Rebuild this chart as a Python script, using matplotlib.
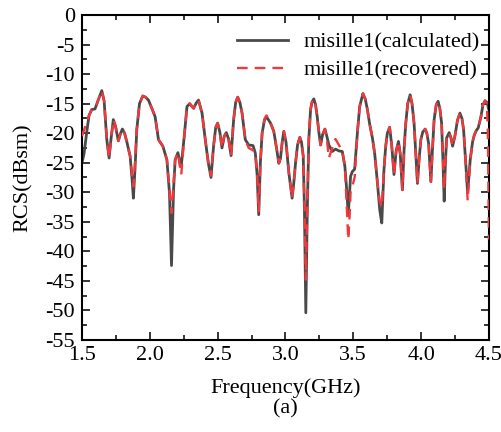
import matplotlib
matplotlib.use("Agg")
import matplotlib.pyplot as plt
from matplotlib.ticker import MultipleLocator, FormatStrFormatter

plt.rcParams["font.family"] = ["Liberation Serif", "DejaVu Serif"]
plt.rcParams["axes.unicode_minus"] = False

# Frequency samples (GHz)
freq = [
    1.500, 1.515, 1.537, 1.552, 1.572, 1.596, 1.618, 1.646, 1.663, 1.683,
    1.700, 1.714, 1.731, 1.747, 1.768, 1.785, 1.798, 1.814, 1.830, 1.855,
    1.870, 1.879, 1.891, 1.904, 1.924, 1.948, 1.968, 1.990, 2.015, 2.039,
    2.064, 2.096, 2.126, 2.145, 2.160, 2.175, 2.187, 2.207, 2.224, 2.232,
    2.254, 2.274, 2.294, 2.323, 2.342, 2.359, 2.385, 2.409, 2.431, 2.451,
    2.470, 2.486, 2.500, 2.516, 2.532, 2.549, 2.564, 2.581, 2.599, 2.618,
    2.633, 2.648, 2.664, 2.680, 2.704, 2.729, 2.761, 2.778, 2.791, 2.803,
    2.815, 2.828, 2.845, 2.860, 2.890, 2.914, 2.934, 2.951, 2.963, 2.976,
    2.988, 3.004, 3.025, 3.049, 3.061, 3.074, 3.089, 3.106, 3.118, 3.131,
    3.140, 3.150, 3.161, 3.172, 3.185, 3.196, 3.209, 3.222, 3.234, 3.246,
    3.259, 3.274, 3.291, 3.305, 3.320, 3.345, 3.369, 3.394, 3.419, 3.438,
    3.451, 3.463, 3.473, 3.480, 3.493, 3.510, 3.530, 3.547, 3.571, 3.588,
    3.604, 3.621, 3.641, 3.658, 3.678, 3.695, 3.710, 3.726, 3.739, 3.751,
    3.768, 3.783, 3.800, 3.816, 3.833, 3.846, 3.862, 3.875, 3.887, 3.901,
    3.919, 3.933, 3.948, 3.961, 3.973, 3.985, 3.998, 4.012, 4.030, 4.042,
    4.055, 4.064, 4.072, 4.083, 4.096, 4.111, 4.125, 4.138, 4.151, 4.160,
    4.170, 4.179, 4.188, 4.207, 4.220, 4.232, 4.249, 4.268, 4.286, 4.301,
    4.313, 4.330, 4.343, 4.362, 4.379, 4.392, 4.408, 4.421, 4.441, 4.456,
    4.471, 4.485, 4.492, 4.496, 4.500,
]

# Calculated RCS (dBsm)
rcs_calculated = [
    -25.0, -23.5, -19.5, -17.0, -16.0, -15.9, -14.5, -12.8, -14.5, -21.1,
    -24.2, -21.0, -17.7, -18.8, -21.3, -20.0, -19.3, -20.0, -21.4, -23.9,
    -28.0, -31.0, -26.0, -19.4, -15.0, -13.7, -13.9, -14.4, -15.8, -17.2,
    -21.1, -22.2, -24.5, -30.1, -42.4, -29.6, -24.5, -23.3, -25.1, -25.5,
    -20.5, -15.5, -15.0, -15.8, -14.9, -14.4, -16.6, -21.1, -25.0, -27.5,
    -22.2, -19.0, -18.3, -19.8, -22.5, -20.5, -19.9, -21.0, -23.8, -17.7,
    -14.8, -13.9, -14.8, -16.6, -21.1, -22.0, -22.1, -23.4, -27.0, -33.8,
    -25.0, -20.0, -17.8, -17.2, -18.3, -19.7, -22.5, -25.1, -24.3, -21.5,
    -19.7, -21.5, -26.7, -31.0, -28.5, -25.1, -22.0, -20.7, -21.5, -23.9,
    -33.0, -50.4, -33.0, -21.1, -16.0, -14.7, -14.2, -15.2, -17.2, -19.8,
    -22.0, -20.2, -19.3, -20.5, -22.0, -23.1, -22.7, -23.0, -23.1, -25.6,
    -29.5, -33.8, -30.0, -27.3, -26.5, -26.1, -20.0, -15.5, -13.3, -14.2,
    -16.0, -18.5, -20.8, -23.5, -28.4, -33.0, -35.2, -26.2, -22.2, -20.0,
    -19.0, -22.0, -27.0, -23.0, -21.4, -23.5, -29.6, -22.5, -18.3, -15.0,
    -13.5, -15.0, -18.3, -23.5, -28.5, -24.5, -21.1, -19.8, -19.3, -20.0,
    -21.7, -25.0, -28.2, -23.0, -17.7, -15.2, -14.6, -15.8, -18.3, -24.0,
    -31.5, -25.0, -20.8, -19.9, -20.8, -22.2, -20.5, -17.8, -16.6, -17.5,
    -19.4, -25.6, -30.1, -24.5, -21.5, -20.3, -19.5, -19.1, -17.2, -15.2,
    -14.5, -14.8, -15.3, -15.8, -16.0,
]

# Recovered RCS (dBsm)
rcs_recovered = [
    -20.5, -19.5, -18.0, -17.0, -16.0, -15.9, -14.5, -12.8, -14.5, -21.1,
    -24.2, -21.0, -17.7, -18.8, -21.3, -20.0, -19.3, -20.0, -21.4, -23.9,
    -27.0, -29.0, -25.0, -19.4, -15.0, -13.7, -13.9, -14.4, -15.8, -17.2,
    -21.1, -22.2, -24.5, -29.5, -33.5, -28.5, -24.5, -23.3, -26.0, -27.0,
    -20.5, -15.5, -15.0, -15.8, -14.9, -14.4, -16.6, -21.1, -25.0, -27.2,
    -22.2, -19.0, -18.3, -19.8, -22.5, -20.5, -19.9, -21.0, -23.8, -17.7,
    -14.8, -13.9, -14.8, -16.6, -21.1, -22.5, -22.9, -23.4, -27.0, -33.2,
    -25.0, -20.0, -17.6, -17.0, -18.3, -19.7, -22.5, -25.1, -24.3, -21.5,
    -19.7, -21.5, -26.7, -31.0, -28.5, -25.1, -22.0, -20.7, -21.5, -23.9,
    -32.0, -44.8, -32.0, -21.1, -16.0, -14.7, -14.2, -15.2, -17.2, -19.8,
    -22.0, -20.2, -19.3, -21.0, -24.2, -22.5, -21.0, -22.0, -23.1, -25.6,
    -32.0, -38.0, -34.0, -30.0, -29.0, -27.5, -20.0, -15.5, -13.3, -14.2,
    -16.0, -18.5, -20.8, -23.5, -28.4, -31.5, -32.5, -26.0, -22.2, -20.0,
    -19.0, -22.0, -27.0, -23.0, -21.4, -23.5, -29.6, -22.5, -18.3, -15.0,
    -13.5, -15.0, -18.3, -23.5, -28.5, -24.5, -21.1, -19.8, -19.3, -20.0,
    -21.7, -25.0, -28.2, -23.0, -17.7, -15.2, -14.6, -15.8, -18.3, -23.5,
    -29.5, -24.5, -20.8, -19.9, -20.8, -22.2, -20.5, -17.8, -16.6, -17.5,
    -19.4, -25.6, -31.4, -24.5, -21.5, -20.3, -19.5, -19.1, -17.2, -15.2,
    -14.5, -15.0, -20.0, -30.0, -38.0,
]

x_ticks = [1.5, 2.0, 2.5, 3.0, 3.5, 4.0, 4.5]
y_ticks = list(range(-55, 1, 5))

fig = plt.figure(figsize=(5.02, 4.32), dpi=100)
ax = fig.add_axes([0.1633, 0.213, 0.8107, 0.7523])

ax.plot(freq, rcs_calculated, color="#4a4a4a", lw=2.0,
        label="misille1(calculated)", zorder=2)
ax.plot(freq, rcs_recovered, color="#f0393c", lw=1.7,
        linestyle=(0, (4.5, 3.0)), label="misille1(recovered)", zorder=3)

ax.set_xlim(1.5, 4.5)
ax.set_ylim(-55, 0)
ax.set_xticks(x_ticks)
ax.set_yticks(y_ticks)
ax.xaxis.set_minor_locator(MultipleLocator(0.25))
ax.yaxis.set_minor_locator(MultipleLocator(2.5))
ax.xaxis.set_major_formatter(FormatStrFormatter("%.1f"))
ax.yaxis.set_major_formatter(FormatStrFormatter("%d"))

ax.tick_params(which="both", direction="in", top=True, right=True,
               labelsize=16, width=1.1)
ax.tick_params(which="major", length=6)
ax.tick_params(axis="x", which="major", pad=4)
ax.tick_params(axis="y", which="major", pad=5)
ax.tick_params(which="minor", length=3.5)
for s in ax.spines.values():
    s.set_linewidth(1.5)

ax.set_ylabel("RCS(dBsm)", fontsize=16, labelpad=9)
ax.set_xlabel("Frequency(GHz)\n(a)", fontsize=16, labelpad=10, linespacing=1.1)

leg = ax.legend(loc="upper right", frameon=False, fontsize=16,
                handlelength=2.3, handletextpad=0.7, labelspacing=0.35,
                borderaxespad=0.0, bbox_to_anchor=(1.0, 0.975))

fig.savefig("out.png", dpi=100)
